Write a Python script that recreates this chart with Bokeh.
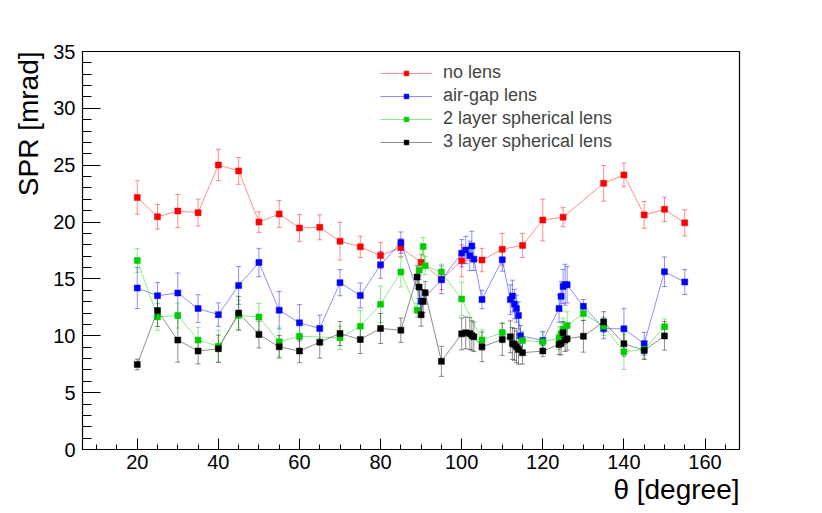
import numpy as np
from bokeh.plotting import figure
from bokeh.models import (Range1d, SingleIntervalTicker, Whisker, ColumnDataSource,
                          Legend, LegendItem, Title, TeeHead)
from bokeh.embed import file_html
from bokeh.resources import INLINE

# ---- data (theta in degree, SPR in mrad) ----
x_red = [20, 25, 30, 35, 40, 45, 50, 55, 60, 65, 70, 75, 80, 85, 90, 95, 100, 105,
         110, 115, 120, 125, 135, 140, 145, 150, 155]
y_red = [22.17, 20.47, 20.97, 20.83, 25.02, 24.5, 20.0, 20.71, 19.48, 19.54, 18.32,
         17.82, 17.06, 17.75, 16.46, 14.97, 16.59, 16.66, 17.61, 17.95, 20.18, 20.43,
         23.41, 24.15, 20.63, 21.12, 19.93]
e_red = [1.47, 1.09, 1.46, 1.18, 1.38, 1.18, 0.91, 1.18, 1.18, 1.1, 1.66, 0.94, 1.16,
         0.8, 0.7, 0.9, 1.4, 1.03, 1.4, 1.06, 1.84, 0.84, 1.57, 1.04, 1.18, 1.07, 1.15]

x_blue = [20, 25, 30, 35, 40, 45, 50, 55, 60, 65, 70, 75, 80, 85, 90, 95, 100, 101,
          102, 102.5, 103, 105, 110, 112, 112.5, 113, 113.5, 114, 114.5, 120, 124,
          124.5, 125, 125.5, 126, 130, 135, 140, 145, 150, 155]
y_blue = [14.2, 13.53, 13.76, 12.39, 11.86, 14.43, 16.44, 12.25, 11.14, 10.64, 14.67,
          13.55, 16.24, 18.2, 13.03, 14.92, 17.26, 17.55, 17.03, 17.9, 16.74, 13.19,
          16.68, 13.18, 13.49, 12.79, 12.39, 11.78, 10.01, 9.59, 12.39, 13.47, 14.34,
          14.49, 14.49, 12.59, 10.64, 10.61, 9.3, 15.63, 14.73]
e_blue = [1.8, 1.15, 1.76, 1.22, 1.03, 1.66, 1.25, 1.65, 1.6, 1.18, 1.15, 1.1, 1.18,
          0.93, 1.0, 1.22, 1.2, 1.2, 1.3, 1.3, 1.0, 0.81, 1.0, 1.3, 1.4, 1.3, 1.2, 1.2,
          0.9, 0.8, 1.2, 1.3, 1.5, 1.8, 1.6, 0.6, 0.9, 1.8, 1.0, 1.3, 1.1]

x_green = [20, 25, 30, 35, 40, 45, 50, 55, 60, 70, 75, 80, 85, 89, 89.5, 90.5, 91, 95,
           100, 105, 110, 115, 120, 124, 124.5, 125, 126, 130, 135, 140, 145, 150]
y_green = [16.62, 11.66, 11.78, 9.62, 9.09, 11.8, 11.66, 9.47, 9.96, 9.82, 10.84, 12.77,
           15.6, 12.25, 15.77, 17.85, 16.16, 15.6, 13.24, 9.62, 10.29, 9.59, 9.47, 9.79,
           10.17, 10.55, 10.91, 11.95, 10.84, 8.59, 8.8, 10.79]
e_green = [1.04, 1.18, 1.1, 1.13, 1.4, 1.35, 1.18, 1.32, 1.2, 1.03, 1.4, 1.6, 1.3, 0.6,
           0.8, 0.8, 0.8, 0.7, 1.47, 0.9, 0.9, 0.8, 0.8, 1.0, 1.0, 1.0, 1.2, 0.6, 0.8,
           1.54, 0.8, 0.7]

x_black = [20, 25, 30, 35, 40, 45, 50, 55, 60, 65, 70, 75, 80, 85, 89, 89.5, 90, 90.5,
           91, 95, 100, 101, 102, 102.5, 103, 105, 110, 112, 112.5, 113, 113.5, 114,
           115, 120, 124, 124.5, 125, 125.5, 126, 130, 135, 140, 145, 150]
y_black = [7.48, 12.22, 9.62, 8.66, 8.86, 12.0, 10.11, 9.03, 8.66, 9.44, 10.2, 9.68,
           10.64, 10.49, 15.17, 14.28, 11.85, 13.04, 13.78, 7.75, 10.17, 10.26, 10.2,
           10.02, 9.91, 9.03, 9.68, 9.91, 9.32, 9.24, 9.03, 8.8, 8.51, 8.66, 9.24, 9.32,
           10.26, 9.62, 9.74, 9.96, 11.22, 9.3, 8.71, 9.99]
e_black = [0.47, 1.4, 1.94, 1.13, 1.2, 1.47, 1.18, 1.0, 1.03, 1.4, 1.06, 1.24, 1.32,
           1.07, 1.0, 1.0, 1.0, 1.0, 1.0, 1.32, 1.4, 1.4, 1.4, 1.3, 1.3, 1.3, 1.4, 1.4,
           1.4, 1.4, 1.4, 1.3, 1.0, 0.5, 0.9, 1.0, 1.0, 1.0, 1.0, 1.4, 0.9, 1.1, 0.8, 1.25]

series = [
    ("no lens", x_red, y_red, e_red, "#ff0000"),
    ("air-gap lens", x_blue, y_blue, e_blue, "#0000ff"),
    ("2 layer spherical lens", x_green, y_green, e_green, "#00cc00"),
    ("3 layer spherical lens", x_black, y_black, e_black, "#000000"),
]

FONT = "Liberation Sans"

p = figure(width=814, height=505, output_backend="svg", toolbar_location=None,
           x_range=Range1d(6.5, 168.5), y_range=Range1d(0, 35),
           min_border_left=82, min_border_right=75, min_border_top=51,
           min_border_bottom=55)
p.background_fill_color = "white"
p.border_fill_color = "white"
p.xgrid.visible = False
p.ygrid.visible = False
p.outline_line_color = "black"
p.outline_line_width = 1.2

p.xaxis.ticker = SingleIntervalTicker(interval=20, num_minor_ticks=4)
p.yaxis.ticker = SingleIntervalTicker(interval=5, num_minor_ticks=5)
for ax, tin, tmin, st in ((p.xaxis, 11, 5, 5), (p.yaxis, 18, 9, 7)):
    ax.major_tick_in = tin
    ax.major_tick_out = 0
    ax.minor_tick_in = tmin
    ax.minor_tick_out = 0
    ax.major_tick_line_color = "black"
    ax.minor_tick_line_color = "black"
    ax.axis_line_color = "black"
    ax.major_label_text_font = FONT
    ax.major_label_text_font_size = "20px"
    ax.major_label_text_color = "black"
    ax.major_label_standoff = st
    ax.axis_label = None

items = []
for name, xs, ys, es, col in series:
    src = ColumnDataSource(dict(x=xs, y=ys,
                                lo=[a - b for a, b in zip(ys, es)],
                                hi=[a + b for a, b in zip(ys, es)]))
    w = Whisker(base="x", upper="hi", lower="lo", source=src, dimension="height",
                line_color=col, line_alpha=0.45, line_width=1,
                upper_head=TeeHead(size=5, line_color=col, line_alpha=0.45, line_width=1),
                lower_head=TeeHead(size=5, line_color=col, line_alpha=0.45, line_width=1))
    p.add_layout(w)
    lr = p.line("x", "y", source=src, line_color=col, line_alpha=0.45, line_width=1)
    sr = p.scatter("x", "y", source=src, marker="square", size=6,
                   fill_color=col, line_color=col, line_width=0.5)
    items.append(LegendItem(label=name, renderers=[lr, sr]))

legend = Legend(items=items, location=(298, 297), glyph_width=52, glyph_height=12,
                label_standoff=11, label_height=20, spacing=2, padding=0, margin=0,
                border_line_alpha=0, background_fill_alpha=0,
                label_text_font=FONT, label_text_font_size="18px")
p.add_layout(legend)

p.add_layout(Title(text="SPR [mrad]", align="right", text_font=FONT,
                   text_font_size="28px", text_font_style="normal",
                   text_color="black", standoff=14), "left")
p.add_layout(Title(text="θ [degree]", align="right", text_font=FONT,
                   text_font_size="28px", text_font_style="normal",
                   text_color="black", standoff=1), "below")

open("out.html", "w").write(file_html(p, INLINE))
